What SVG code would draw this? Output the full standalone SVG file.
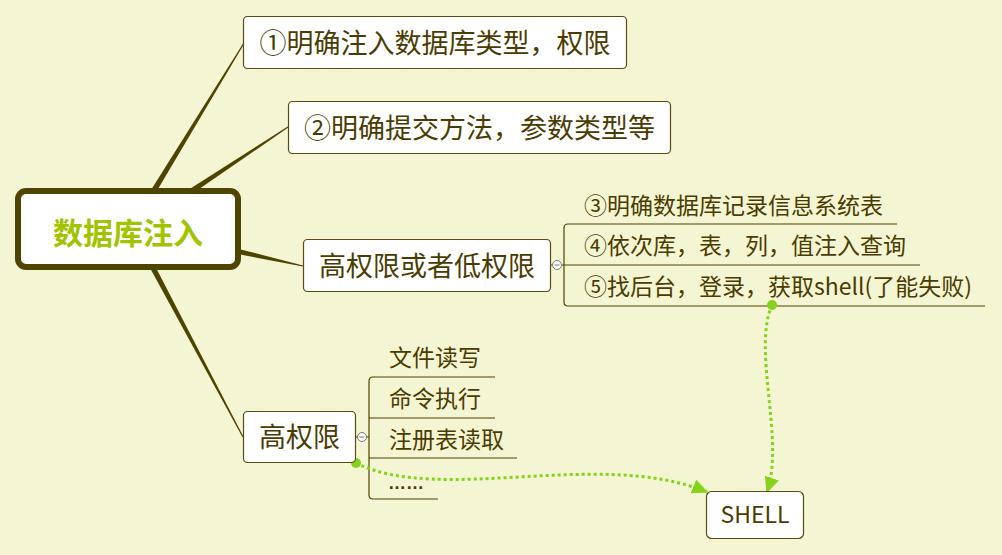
<svg xmlns="http://www.w3.org/2000/svg" width="1002" height="555" viewBox="0 0 1002 555">
<style>
.node{fill:#fff;stroke:#5a4c10;stroke-width:1.2}
.t{font-family:"Noto Sans CJK SC","Microsoft YaHei",sans-serif;fill:#4a3c00}
.big{font-size:27px}
.sm{font-size:23px}
.br{fill:none;stroke:#4e4300;stroke-width:1.2}
.taper{fill:#4e4300}
.dot{fill:none;stroke:#84d21a;stroke-width:3;stroke-dasharray:3 3}
.col{fill:#fff;stroke:#7a7a6a;stroke-width:1}
</style>
<defs>
<marker id="arr" viewBox="0 0 12 12" refX="11" refY="6" markerWidth="16" markerHeight="16" markerUnits="userSpaceOnUse" orient="auto">
<path d="M0,0.5 L12,6 L0,11.5 z" fill="#84d21a"/>
</marker>
</defs>
<rect width="1002" height="555" fill="#f4f5d3"/>
<g id="connectors">
<polygon class="taper" points="155.3,193.4 244.5,43.3 243.5,42.7 150.7,190.6"/>
<polygon class="taper" points="191.5,194.3 288.3,127.5 287.7,126.5 188.5,189.8"/>
<polygon class="taper" points="235.4,253.6 302.9,266.6 303.1,265.4 236.6,248.4"/>
<polygon class="taper" points="154.4,264.7 243.5,436.7 242.5,437.3 149.6,267.3"/>
<path class="br" d="M897,224 H568 Q564,224 564,228 V302 Q564,306 568,306 H985 M551,265 H552.5 M561.5,265 H920"/>
<path class="br" d="M495,377 H373 Q369,377 369,381 V495 Q369,499 373,499 H438 M369,418 H495 M369,458 H517 M366.5,437 H369 M355,437 H357.5"/>
<g>
<circle class="col" cx="557" cy="265" r="4.5"/>
<path d="M554.5,265 H559.5" stroke="#7a7a6a" stroke-width="1"/>
<circle class="col" cx="362" cy="437" r="4.5"/>
<path d="M359.5,437 H364.5" stroke="#7a7a6a" stroke-width="1"/>
</g>
<path class="dot" d="M356,463 C440,505 600,448 707,492" marker-end="url(#arr)"/>
<path class="dot" d="M772,305 C752,350 785,440 767,492" marker-end="url(#arr)"/>
<circle cx="356" cy="463" r="5" fill="#84d21a"/>
<circle cx="772" cy="305" r="5" fill="#84d21a"/>
</g>
<g id="central">
<rect x="18" y="191" width="220" height="76" rx="8" fill="#fff" stroke="#4e4500" stroke-width="6"/>
<text x="128" y="244" text-anchor="middle" font-family="'Noto Sans CJK SC','Microsoft YaHei',sans-serif" font-size="30" font-weight="bold" fill="#a2c300">数据库注入</text>
</g>
<g id="n1">
<rect class="node" x="243.5" y="16.5" width="383" height="52" rx="4"/>
<text class="t big" x="435" y="52.5" text-anchor="middle">①明确注入数据库类型，权限</text>
</g>
<g id="n2">
<rect class="node" x="288.5" y="101.5" width="382" height="52" rx="4"/>
<text class="t big" x="479.5" y="137.5" text-anchor="middle">②明确提交方法，参数类型等</text>
</g>
<g id="n3">
<rect class="node" x="303.5" y="239.5" width="247" height="52" rx="4"/>
<text class="t big" x="427" y="276" text-anchor="middle">高权限或者低权限</text>
</g>
<g id="n3a"><text class="t sm" x="584" y="214">③明确数据库记录信息系统表</text></g>
<g id="n3b"><text class="t sm" x="584" y="254">④依次库，表，列，值注入查询</text></g>
<g id="n3c"><text class="t sm" x="584" y="295">⑤找后台，登录，获取shell(了能失败)</text></g>
<g id="n4">
<rect class="node" x="243.5" y="411.5" width="112" height="51" rx="4"/>
<text class="t big" x="299.5" y="447" text-anchor="middle">高权限</text>
</g>
<g id="n4a"><text class="t sm" x="389" y="366">文件读写</text></g>
<g id="n4b"><text class="t sm" x="389" y="407">命令执行</text></g>
<g id="n4c"><text class="t sm" x="389" y="448">注册表读取</text></g>
<g id="n4d"><text x="388" y="489" font-family="'Liberation Sans',sans-serif" font-size="18" font-weight="bold" fill="#4a3c00">……</text></g>
<g id="shell">
<rect class="node" x="706.5" y="491.5" width="97" height="47" rx="5"/>
<text class="t sm" x="755" y="523" text-anchor="middle">SHELL</text>
</g>
</svg>
